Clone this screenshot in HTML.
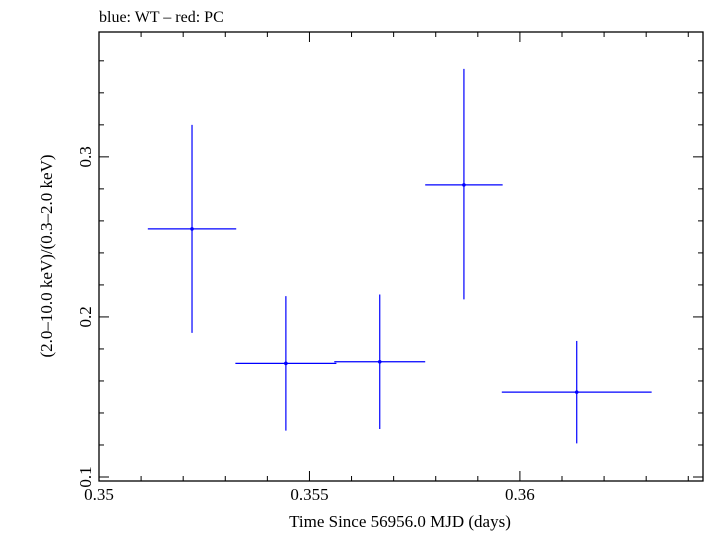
<!DOCTYPE html>
<html><head><meta charset="utf-8"><style>
body{margin:0;background:#fff;}
svg text{font-family:"Liberation Serif",serif;fill:#000;}
</style></head><body>
<svg id="chart" width="705" height="532" xmlns="http://www.w3.org/2000/svg">
<text x="99" y="22" font-size="16">blue: WT – red: PC</text>
<g id="axes"></g>
<g id="marks"></g>
<text x="400" y="527" font-size="17" text-anchor="middle">Time Since 56956.0 MJD (days)</text>
<text transform="translate(52,256) rotate(-90)" font-size="17" text-anchor="middle">(2.0–10.0 keV)/(0.3–2.0 keV)</text>
</svg>
<script>
const times=[0.35221,0.35444,0.35667,0.35867,0.36135];
const timeErr=[0.00105,0.0012,0.00108,0.00092,0.00178];
const ratios=[0.255,0.171,0.172,0.2825,0.153];
const ratioHi=[0.320,0.213,0.214,0.355,0.185];
const ratioLo=[0.190,0.129,0.130,0.211,0.121];
const xTicks=[0.35,0.355,0.36];
const xTickLabels=["0.35","0.355","0.36"];
const yTicks=[0.1,0.2,0.3];
const yTickLabels=["0.1","0.2","0.3"];
const L=99,R=703,T=32,B=481;
const x0=0.35,x1=0.36435,y0=0.0975,y1=0.378;
const sx=v=>L+(v-x0)/(x1-x0)*(R-L);
const sy=v=>B-(v-y0)/(y1-y0)*(B-T);
const NS="http://www.w3.org/2000/svg";
function mk(tag,attrs,parent){const e=document.createElementNS(NS,tag);for(const k in attrs)e.setAttribute(k,attrs[k]);parent.appendChild(e);return e;}
const ax=document.getElementById('axes');
const frame=mk('rect',{x:L,y:T,width:R-L,height:B-T,fill:'none',stroke:'#000','stroke-width':1.3},ax);


for(let i=0;i<=14;i++){const v=0.35+i*0.001;const px=sx(v);const major=i%5===0;const len=major?10:5;
mk('line',{x1:px,x2:px,y1:B,y2:B-len,stroke:'#000'},ax);
mk('line',{x1:px,x2:px,y1:T,y2:T+len,stroke:'#000'},ax);}
for(let i=0;i<=14;i++){const v=0.1+i*0.02;if(v>y1)break;const py=sy(v);const major=Math.abs((v*10)-Math.round(v*10))<1e-6;const len=major?10:5;
mk('line',{x1:L,x2:L+len,y1:py,y2:py,stroke:'#000'},ax);
mk('line',{x1:R,x2:R-len,y1:py,y2:py,stroke:'#000'},ax);}
xTicks.forEach((v,i)=>{const t=mk('text',{x:sx(v),y:B+19,'font-size':17,'text-anchor':'middle'},ax);t.textContent=xTickLabels[i];

});
yTicks.forEach((v,i)=>{const t=mk('text',{transform:`translate(${L-8},${sy(v)}) rotate(-90)`,'font-size':17,'text-anchor':'middle'},ax);t.textContent=yTickLabels[i];

});
const mg=document.getElementById('marks');
times.forEach((t,i)=>{const g=mk('g',{stroke:'#0000ff','stroke-width':1.2},mg);


mk('line',{x1:sx(t-timeErr[i]),x2:sx(t+timeErr[i]),y1:sy(ratios[i]),y2:sy(ratios[i])},g);
mk('line',{x1:sx(t),x2:sx(t),y1:sy(ratioHi[i]),y2:sy(ratioLo[i])},g);
mk('circle',{cx:sx(t),cy:sy(ratios[i]),r:1.8,fill:'#0000ff',stroke:'none'},g);});
</script>
</body></html>
